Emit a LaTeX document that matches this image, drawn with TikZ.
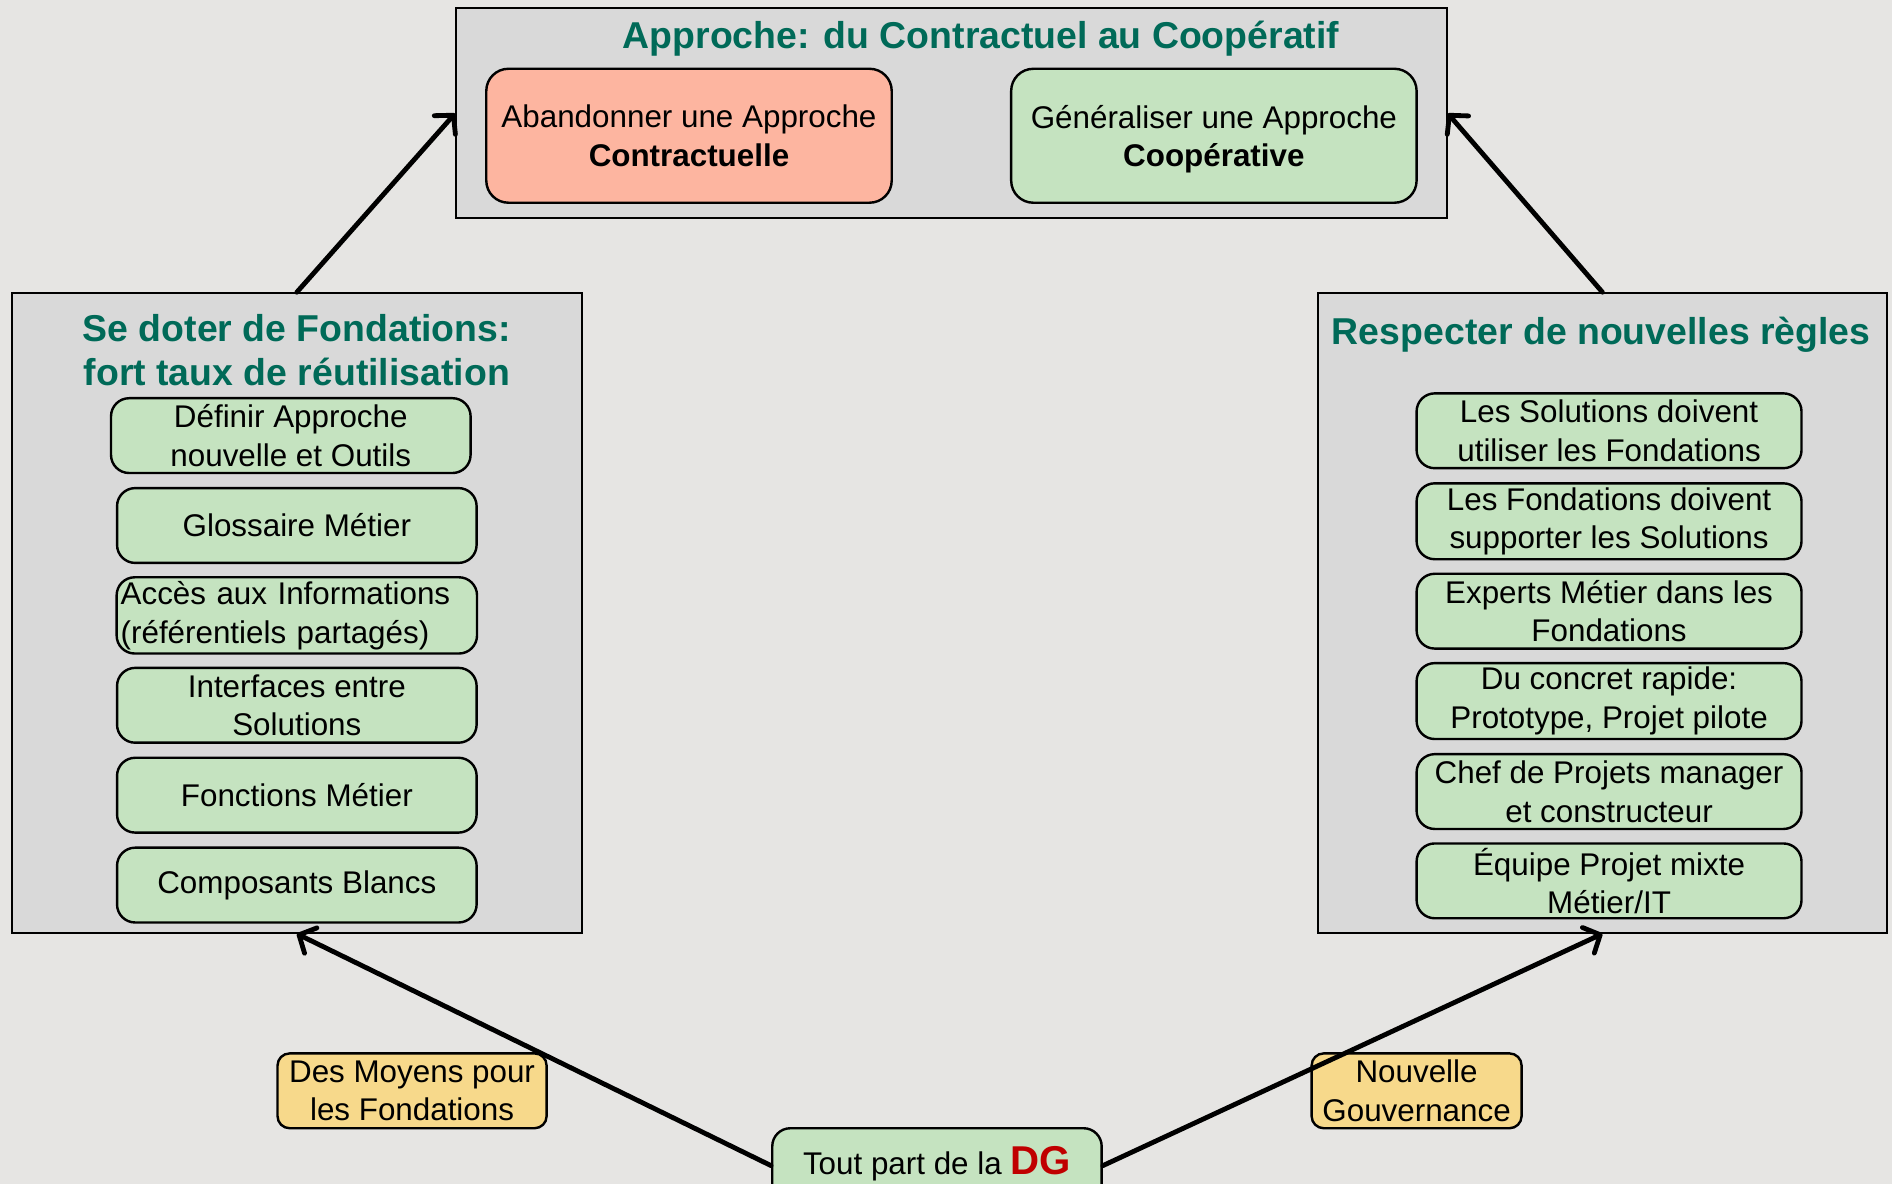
\documentclass[tikz,border=0pt]{standalone}
\usepackage{fontspec}
\setmainfont{Liberation Sans}
\usetikzlibrary{arrows.meta,positioning}
\definecolor{paper}{HTML}{E6E5E3}
\definecolor{panelFill}{HTML}{D9D9D9}
\definecolor{greenFill}{HTML}{C5E3C0}
\definecolor{salmonFill}{HTML}{FDB5A0}
\definecolor{yellowFill}{HTML}{F7D98B}
\definecolor{teal}{HTML}{006A58}
\definecolor{dgred}{HTML}{C00000}
\newdimen\px \px=0.6pt
\tikzset{
  base/.style={font=\fontsize{15.6}{19.2}\selectfont, text=black},
  heading/.style={font=\bfseries\fontsize{18.6}{21.6}\selectfont, text=teal, align=center},
  panel/.style={draw=black, line width=1pt, fill=panelFill, inner sep=0pt},
  box/.style={base, rounded corners=9pt, draw=black, line width=1.2pt, fill=greenFill, align=center, inner sep=2pt, minimum height=62\px},
  salmon/.style={box, fill=salmonFill, rounded corners=11pt},
  yellowbox/.style={box, fill=yellowFill, rounded corners=6pt},
  arrow/.style={-{Straight Barb[length=6.5pt,width=14pt,round]}, line width=2.4pt, line cap=round, draw=black},
}

\begin{document}
\begin{tikzpicture}[x=0.6pt,y=-0.6pt]
  \fill[paper] (0,0) rectangle (1568,981);
  \useasboundingbox (0,0) rectangle (1568,981);

  % top panel
  \node[panel,minimum width=821\px,minimum height=174\px] (top) at (788.5,94) {};
  \node[heading] (toptitle) at (813,32) {Approche: du Contractuel au Coopératif};
  \node[salmon,minimum width=336\px,minimum height=111\px] (abandon) at (571,112.5) {Abandonner une Approche\\\textbf{Contractuelle}};
  \node[box,minimum width=336\px,minimum height=111\px,rounded corners=11pt] (generaliser) at (1006,112.5) {Généraliser une Approche\\\smash{\textbf{Coopérative}}};

  % left panel
  \node[panel,minimum width=472\px,minimum height=530\px] (left) at (246,508) {};
  \node[heading] (lefttitle) at (246,290) {Se doter de Fondations:\\fort taux de réutilisation};
  \node[box,minimum width=298\px] (definir) at (241,361) {Définir Approche\\nouvelle et Outils};
  \node[box,minimum width=298\px] (glossaire) at (246,435.5) {Glossaire Métier};
  \node[box,minimum width=298\px,text width=292\px,align=left] (acces) at (246,510) {Accès aux Informations\\(référentiels partagés)};
  \node[box,minimum width=298\px] (interfaces) at (246,584.5) {Interfaces entre\\Solutions};
  \node[box,minimum width=298\px] (fonctions) at (246,659) {Fonctions Métier};
  \node[box,minimum width=298\px] (composants) at (246,733.5) {Composants Blancs};

  % right panel
  \node[panel,minimum width=472\px,minimum height=530\px] (right) at (1328,508) {};
  \node[heading] (righttitle) at (1327,277) {Respecter de nouvelles règles};
  \node[box,minimum width=319\px] (utiliser) at (1333.5,357) {Les Solutions doivent\\utiliser les Fondations};
  \node[box,minimum width=319\px] (supporter) at (1333.5,432) {Les Fondations doivent\\supporter les Solutions};
  \node[box,minimum width=319\px] (experts) at (1333.5,506.5) {Experts Métier dans les\\Fondations};
  \node[box,minimum width=319\px] (concret) at (1333.5,581) {Du concret rapide:\\Prototype, Projet pilote};
  \node[box,minimum width=319\px] (chef) at (1333.5,656) {Chef de Projets manager\\et constructeur};
  \node[box,minimum width=319\px] (equipe) at (1333.5,730) {Équipe Projet mixte\\Métier/IT};

  % bottom
  \node[box,minimum width=273\px,minimum height=62\px] (dg) at (776.5,966) {\raisebox{5pt}{Tout part de la {\bfseries\fontsize{20}{20}\selectfont\color{dgred}DG}}};
  \node[yellowbox,minimum width=223\px] (moyens) at (341.5,904) {Des Moyens pour\\les Fondations};
  \node[yellowbox,minimum width=174\px] (gouvernance) at (1174,904) {Nouvelle\\Gouvernance};

  \draw[arrow] (dg.west) -- (left.south);
  \draw[arrow] (dg.east) -- (right.south);
  \draw[arrow] (left.north) -- (top.west);
  \draw[arrow] (right.north) -- (top.east);
\end{tikzpicture}
\end{document}
